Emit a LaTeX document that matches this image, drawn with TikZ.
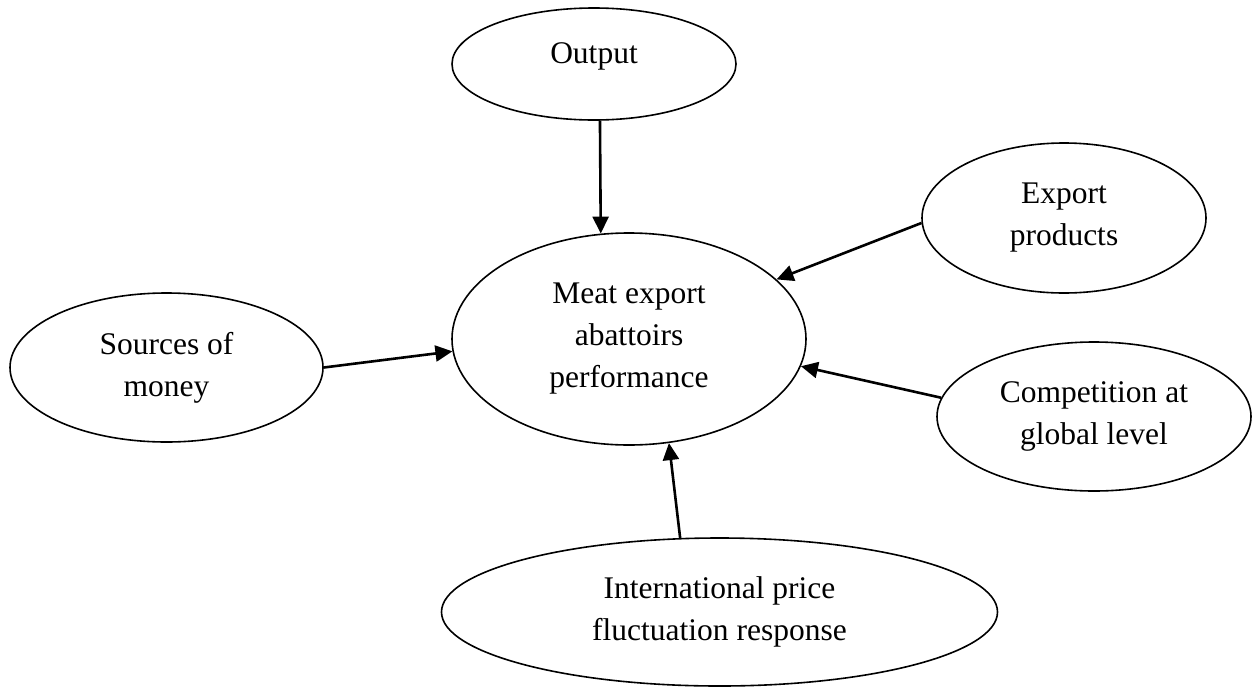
\documentclass[tikz,border=0pt]{standalone}
\usepackage{fontspec}
\setmainfont{Liberation Serif}
\usetikzlibrary{shapes.geometric,arrows.meta}
\begin{document}
\begin{tikzpicture}[x=0.5pt,y=-0.5pt,
  ell/.style={draw,ellipse,line width=0.8pt,inner sep=0pt,align=center,
    font=\fontsize{15.75}{21}\selectfont},
  arr/.style={line width=1.3pt,-{Triangle[length=8.5pt,width=8pt]}}]
\useasboundingbox (0,0) rectangle (1253,686);
\node[ell,minimum width=142pt,minimum height=56pt] (out) at (594,64)
  {\raisebox{4pt}[\height][\depth]{Output}};
\node[ell,minimum width=177pt,minimum height=106pt] (meat) at (629,339)
  {Meat export\\abattoirs\\performance};
\node[ell,minimum width=142pt,minimum height=75pt] (exp) at (1064,218)
  {Export\\products};
\node[ell,minimum width=156.5pt,minimum height=74.5pt] (src) at (166.5,367.5)
  {Sources of\\money};
\node[ell,minimum width=157pt,minimum height=74.5pt] (comp) at (1094,416.5)
  {Competition at\\global level};
\node[ell,minimum width=278pt,minimum height=74pt] (intl) at (719.5,612)
  {International price\\fluctuation response};
\draw[arr] (out.-84) -- (meat.105.2);
\draw[arr] (exp.182) -- (meat.22.7);
\draw[arr] (src.-0.5) -- (meat.184.5);
\draw[arr] (comp.173.6) -- (meat.-9.25);
\draw[arr] (intl.118.7) -- (meat.-69);
\end{tikzpicture}
\end{document}
